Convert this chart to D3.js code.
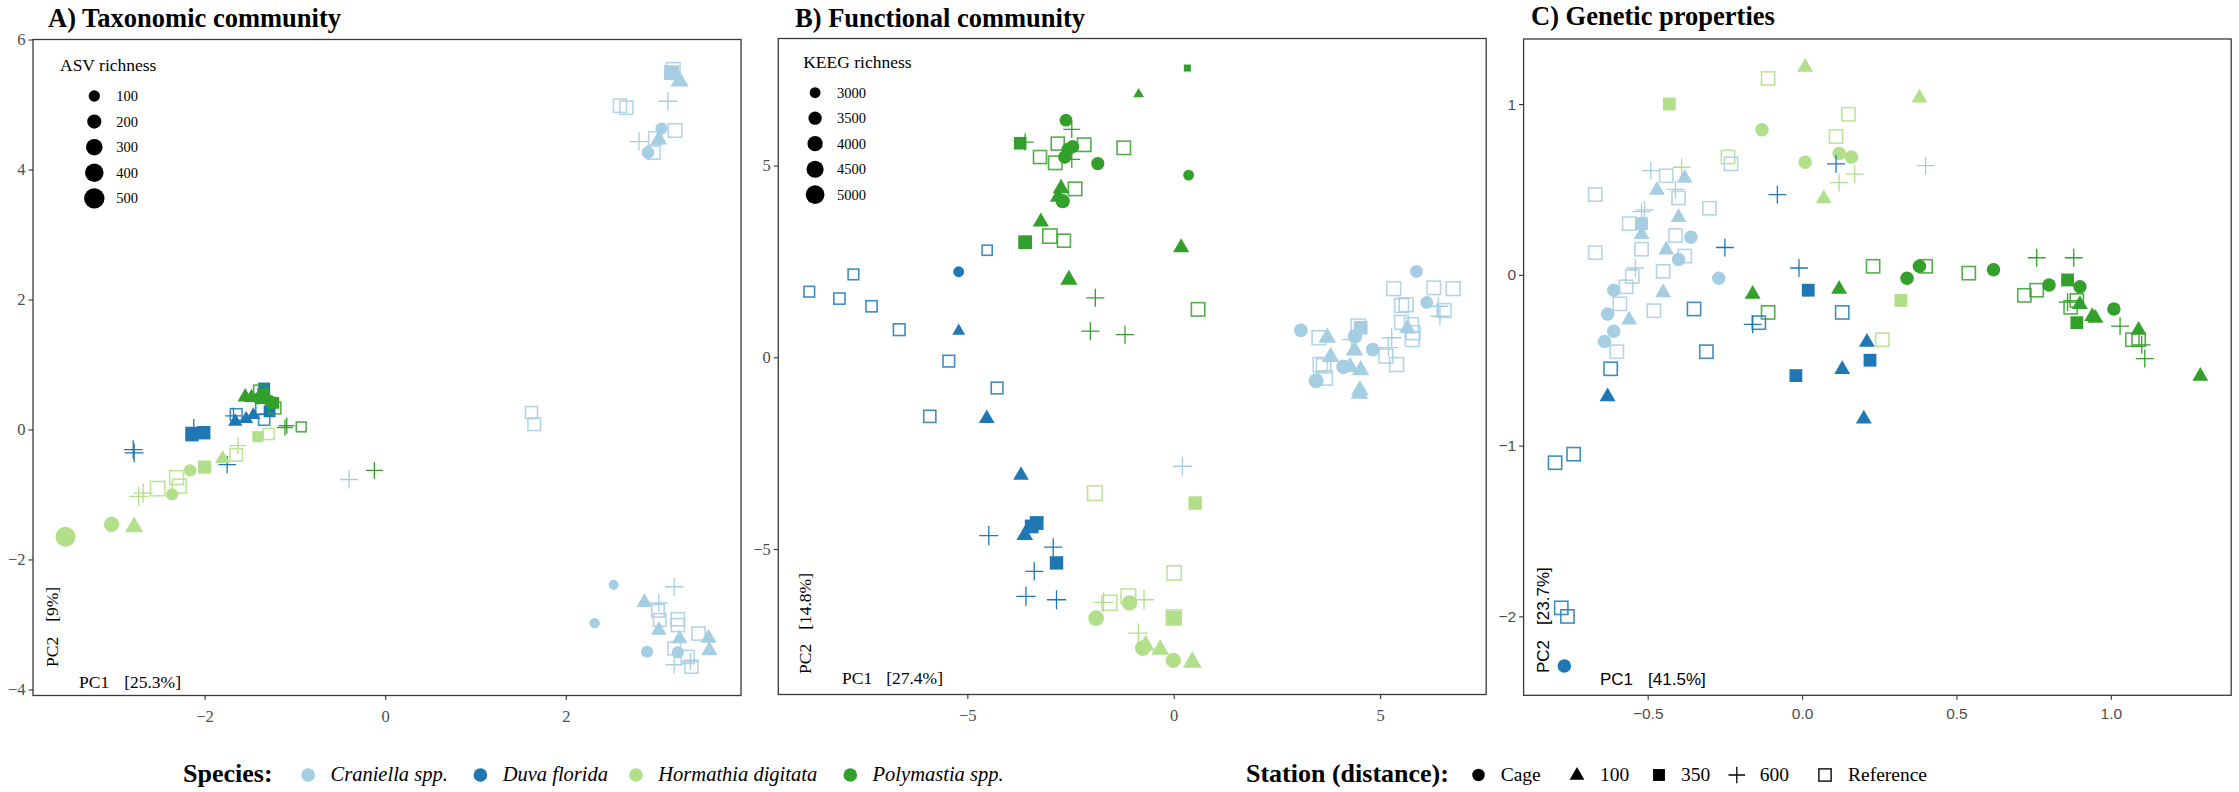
<!DOCTYPE html>
<html><head><meta charset="utf-8">
<script src="https://cdn.jsdelivr.net/npm/d3@7"></script>
<style>body{margin:0;background:#fff}svg{display:block}text{white-space:pre}</style>
</head><body><svg id="chart" width="2239" height="792"></svg>
<script>
// ---------------- DATA ----------------
const speciesCodes = ["Cra","Duv","Hor","Pol"];
const speciesNames = ["Craniella spp.","Duva florida","Hormathia digitata","Polymastia spp."];
const speciesColors = ["#a6cee3","#1f78b4","#b2df8a","#33a02c"];
const stationCodes = ["Cage","100","350","600","Ref"];
const stationLabels = ["Cage","100","350","600","Reference"];

const asvLegendValues = [100,200,300,400,500];
const keegLegendValues = [3000,3500,4000,4500,5000];

const taxTicksX = [-2,0,2];
const taxTicksY = [-4,-2,0,2,4,6];
const funTicksX = [-5,0,5];
const funTicksY = [-5,0,5];
const genTicksX = [-0.5,0,0.5,1.0];
const genTicksY = [-2,-1,0,1];

const panelTitles = ["A) Taxonomic community","B) Functional community","C) Genetic properties"];
const pc1Labels = [["PC1","[25.3%]"],["PC1","[27.4%]"],["PC1","[41.5%]"]];
const pc2Labels = [["PC2","[9%]"],["PC2","[14.8%]"],["PC2","[23.7%]"]];

// [species, station, PC1, PC2, ASV richness]
const taxPoints = [
 ["Cra","Ref",3.19,5.54,190],["Cra","350",3.17,5.49,260],["Cra","100",3.26,5.37,250],
 ["Cra","Ref",2.60,4.98,170],["Cra","Ref",2.67,4.95,170],["Cra","600",3.13,5.05,200],
 ["Cra","Cage",3.06,4.63,130],["Cra","Ref",3.21,4.60,190],["Cra","600",2.81,4.43,200],
 ["Cra","Ref",2.99,4.48,170],["Cra","100",3.03,4.47,200],["Cra","Cage",2.91,4.26,150],
 ["Cra","Ref",2.97,4.26,170],
 ["Cra","Ref",1.62,0.26,130],["Cra","Ref",1.65,0.08,150],["Cra","600",-0.40,-0.77,180],
 ["Pol","600",-0.12,-0.63,150],
 ["Cra","Cage",2.53,-2.39,60],["Cra","Cage",2.32,-2.98,70],["Cra","100",2.87,-2.65,170],
 ["Cra","600",3.20,-2.42,190],["Cra","600",3.03,-2.67,170],["Cra","Ref",3.02,-2.79,150],
 ["Cra","Ref",3.04,-2.93,150],["Cra","100",3.03,-3.08,170],["Cra","Ref",3.24,-2.92,170],
 ["Cra","Ref",3.24,-3.01,170],["Cra","100",3.26,-3.21,170],["Cra","Ref",3.47,-3.14,170],
 ["Cra","100",3.58,-3.20,190],["Cra","100",3.59,-3.39,190],["Cra","Cage",2.90,-3.42,130],
 ["Cra","Cage",3.24,-3.43,130],["Cra","Ref",3.20,-3.37,150],["Cra","Ref",3.35,-3.50,170],
 ["Cra","Ref",3.39,-3.65,170],["Cra","600",3.20,-3.62,170],["Cra","600",3.38,-3.57,150],
 ["Duv","350",-2.14,-0.08,200],["Duv","350",-2.01,-0.05,200],["Duv","600",-2.12,0.03,150],
 ["Duv","600",-2.79,-0.31,200],["Duv","600",-2.78,-0.36,200],["Duv","600",-1.75,-0.54,170],
 ["Duv","100",-1.66,0.13,130],["Duv","100",-1.54,0.17,120],["Duv","100",-1.46,0.23,110],
 ["Duv","Ref",-1.65,0.23,120],["Duv","Ref",-1.34,0.15,100],["Duv","Ref",-1.37,0.32,110],
 ["Duv","600",-1.68,0.21,130],["Duv","350",-1.34,0.63,140],["Duv","350",-1.28,0.28,140],
 ["Hor","Cage",-2.16,-0.63,140],["Hor","350",-2.00,-0.58,190],["Hor","100",-1.80,-0.44,150],
 ["Hor","Ref",-2.31,-0.74,200],["Hor","Ref",-2.28,-0.87,200],["Hor","Ref",-2.52,-0.91,220],
 ["Hor","600",-2.68,-0.98,220],["Hor","600",-2.73,-1.03,220],["Hor","Cage",-2.36,-1.00,130],
 ["Hor","Cage",-3.03,-1.46,250],["Hor","100",-2.78,-1.49,250],["Hor","Cage",-3.54,-1.65,480],
 ["Hor","Ref",-1.65,-0.39,150],["Hor","600",-1.63,-0.25,150],["Hor","350",-1.41,-0.11,110],
 ["Hor","Ref",-1.29,-0.07,100],
 ["Pol","600",-1.11,0.03,130],["Pol","600",-1.09,0.06,130],["Pol","Ref",-0.93,0.04,60],
 ["Pol","100",-1.55,0.51,160],["Pol","100",-1.48,0.50,160],["Pol","350",-1.35,0.54,150],
 ["Pol","Cage",-1.28,0.44,130],["Pol","350",-1.24,0.41,140],["Pol","Ref",-1.39,0.59,130],
 ["Pol","Ref",-1.22,0.33,120],["Pol","Cage",-1.40,0.48,140],["Pol","100",-1.30,0.47,150]
];

// [species, station, PC1, PC2, KEEG richness]
const funPoints = [
 ["Pol","350",0.33,7.54,2450],["Pol","100",-0.85,6.87,2700],["Pol","Cage",-2.61,6.18,3400],
 ["Pol","600",-2.47,5.94,3400],["Pol","350",-3.72,5.58,3500],["Pol","600",-3.60,5.61,3400],
 ["Pol","Ref",-2.81,5.57,3500],["Pol","Ref",-2.17,5.54,3600],["Pol","Ref",-3.24,5.22,3500],
 ["Pol","Ref",-2.87,5.07,3600],["Pol","Ref",-1.21,5.46,3600],["Pol","Cage",-2.45,5.49,3500],
 ["Pol","Cage",-2.56,5.42,3500],["Pol","Cage",-2.64,5.22,3500],["Pol","Cage",-1.84,5.05,3500],
 ["Pol","600",-2.47,5.16,3400],["Pol","Cage",0.36,4.75,3000],["Pol","100",-2.73,4.42,3700],
 ["Pol","100",-2.80,4.20,3700],["Pol","Cage",-2.69,4.07,3700],["Pol","Ref",-2.39,4.39,3600],
 ["Pol","100",-3.22,3.55,3600],["Pol","350",-3.60,3.00,3800],["Pol","Ref",-3.00,3.16,3800],
 ["Pol","Ref",-2.66,3.04,3500],["Pol","100",0.18,2.88,3600],["Pol","100",-2.54,2.04,3800],
 ["Pol","600",-1.90,1.55,3600],["Pol","Ref",0.59,1.25,3600],["Pol","600",-2.02,0.68,3600],
 ["Pol","600",-1.18,0.59,3600],
 ["Duv","Ref",-4.52,2.79,2900],["Duv","Ref",-7.76,2.16,3000],["Duv","Ref",-8.83,1.71,3000],
 ["Duv","Ref",-8.10,1.53,3100],["Duv","Ref",-7.32,1.33,3100],["Duv","Ref",-6.65,0.72,3200],
 ["Duv","Ref",-5.45,-0.10,3200],["Duv","Ref",-4.28,-0.80,3200],["Duv","Cage",-5.21,2.23,3000],
 ["Duv","100",-5.21,0.70,3000],["Duv","Ref",-5.91,-1.54,3300],["Duv","100",-4.53,-1.58,3500],
 ["Duv","100",-3.70,-3.06,3500],["Duv","350",-3.32,-4.32,3800],["Duv","350",-3.44,-4.41,3800],
 ["Duv","100",-3.61,-4.62,3700],["Duv","600",-4.48,-4.65,3800],["Duv","600",-2.92,-4.95,3600],
 ["Duv","350",-2.84,-5.36,3700],["Duv","600",-3.38,-5.58,3600],["Duv","600",-3.58,-6.23,3800],
 ["Duv","600",-2.84,-6.32,3800],
 ["Cra","600",0.21,-2.84,3800],["Cra","100",4.50,-0.93,3900],["Cra","Cage",5.88,2.24,3400],
 ["Cra","Ref",5.33,1.79,3700],["Cra","Ref",6.30,1.81,3600],["Cra","Ref",6.77,1.79,3700],
 ["Cra","Cage",6.13,1.43,3400],["Cra","Ref",5.52,1.35,3700],["Cra","Ref",5.63,1.37,3700],
 ["Cra","600",6.41,1.33,3700],["Cra","600",6.45,1.07,3700],["Cra","Ref",6.55,1.22,3700],
 ["Cra","Ref",5.52,0.91,3700],["Cra","Ref",5.76,0.85,3700],["Cra","Ref",5.80,0.64,3700],
 ["Cra","Ref",5.78,0.46,3700],["Cra","100",5.66,0.77,3700],["Cra","Cage",3.08,0.70,3600],
 ["Cra","Ref",3.52,0.51,3700],["Cra","100",3.72,0.53,3900],["Cra","350",4.53,0.77,3800],
 ["Cra","Ref",4.47,0.81,3800],["Cra","Cage",4.39,0.55,3800],["Cra","100",4.38,0.20,3900],
 ["Cra","600",4.31,0.46,3800],["Cra","Cage",4.82,0.20,3600],["Cra","600",5.20,0.25,3800],
 ["Cra","600",5.28,0.51,3800],["Cra","Ref",5.14,0.03,3700],["Cra","Ref",5.40,-0.19,3700],
 ["Cra","100",3.80,0.03,3900],["Cra","Ref",3.55,-0.19,3800],["Cra","Ref",3.63,-0.22,3800],
 ["Cra","Cage",4.11,-0.25,3800],["Cra","100",4.27,-0.23,3900],["Cra","100",4.53,-0.32,3900],
 ["Cra","Cage",3.45,-0.61,3900],["Cra","Ref",3.67,-0.54,3800],["Cra","100",4.51,-0.84,3900],
 ["Hor","Ref",-1.91,-3.54,3900],["Hor","350",0.52,-3.80,3700],["Hor","Ref",0.01,-5.62,3800],
 ["Hor","600",-1.70,-6.39,3900],["Hor","600",-0.72,-6.32,3900],["Hor","600",-0.86,-7.19,3900],
 ["Hor","Ref",-1.56,-6.40,4000],["Hor","Ref",-1.10,-6.23,3900],["Hor","Cage",-1.07,-6.40,4000],
 ["Hor","Cage",-1.88,-6.80,4100],["Hor","350",0.01,-6.80,4000],["Hor","Ref",0.00,-6.78,4000],
 ["Hor","Cage",-0.75,-7.58,4100],["Hor","Cage",-0.01,-7.90,4000],["Hor","100",-0.68,-7.49,4000],
 ["Hor","100",-0.33,-7.60,4000],["Hor","100",0.45,-7.93,4200]
];

// [species, station, PC1, PC2]
const genPoints = [
 ["Cra","600",-0.49,0.61],["Hor","600",-0.39,0.63],["Cra","Ref",-0.44,0.58],["Cra","100",-0.38,0.57],
 ["Hor","Ref",-0.24,0.69],["Cra","Ref",-0.23,0.65],["Hor","Cage",0.01,0.66],["Cra","100",-0.47,0.50],
 ["Cra","Ref",-0.67,0.47],["Cra","600",-0.41,0.50],["Cra","Ref",-0.40,0.45],["Duv","600",-0.08,0.47],
 ["Cra","600",-0.51,0.38],["Cra","600",-0.52,0.37],["Cra","Ref",-0.30,0.39],["Cra","100",-0.40,0.34],
 ["Cra","Ref",-0.56,0.30],["Cra","350",-0.52,0.30],["Cra","100",-0.52,0.24],["Cra","Ref",-0.41,0.23],
 ["Cra","Cage",-0.36,0.22],["Cra","Ref",-0.67,0.13],["Cra","Ref",-0.52,0.15],["Cra","100",-0.44,0.15],
 ["Cra","Ref",-0.38,0.11],["Cra","Cage",-0.40,0.09],["Cra","600",-0.54,0.04],["Cra","Ref",-0.45,0.02],
 ["Cra","Ref",-0.55,-0.01],["Duv","600",-0.25,0.16],["Cra","Cage",-0.27,-0.02],["Cra","Ref",-0.57,-0.07],
 ["Cra","Cage",-0.61,-0.09],["Cra","100",-0.45,-0.10],["Duv","600",-0.01,0.04],["Duv","350",0.02,-0.09],
 ["Pol","100",-0.16,-0.11],["Cra","Ref",-0.59,-0.17],["Cra","Cage",-0.63,-0.23],["Cra","100",-0.56,-0.26],
 ["Cra","Ref",-0.48,-0.21],["Duv","Ref",-0.35,-0.20],["Pol","Ref",-0.11,-0.22],["Duv","Ref",-0.14,-0.28],
 ["Duv","600",-0.16,-0.29],["Cra","Cage",-0.61,-0.33],["Cra","Cage",-0.64,-0.39],["Cra","Ref",-0.60,-0.45],
 ["Duv","Ref",-0.31,-0.45],["Duv","Ref",-0.62,-0.55],["Duv","350",-0.02,-0.59],["Duv","100",-0.63,-0.71],
 ["Hor","100",0.01,1.22],["Hor","Ref",-0.11,1.15],["Hor","350",-0.43,1.00],["Hor","100",0.38,1.04],
 ["Hor","Ref",0.15,0.94],["Hor","Cage",-0.13,0.85],["Hor","Ref",0.11,0.81],["Hor","Cage",0.12,0.71],
 ["Hor","Cage",0.16,0.69],["Duv","600",0.11,0.65],["Hor","600",0.12,0.54],["Hor","600",0.17,0.59],
 ["Hor","100",0.07,0.45],["Cra","600",0.40,0.64],
 ["Pol","Ref",0.23,0.05],["Pol","Cage",0.34,-0.02],["Pol","Cage",0.38,0.05],["Pol","Ref",0.40,0.05],
 ["Pol","Ref",0.54,0.01],["Pol","Cage",0.62,0.03],["Pol","600",0.76,0.10],["Pol","600",0.88,0.10],
 ["Pol","Ref",0.72,-0.12],["Pol","Ref",0.76,-0.09],["Pol","Cage",0.80,-0.06],["Pol","350",0.86,-0.03],
 ["Pol","Cage",0.90,-0.07],["Pol","Ref",0.87,-0.19],["Pol","Ref",0.89,-0.15],["Pol","600",0.86,-0.16],
 ["Pol","100",0.90,-0.17],["Pol","100",0.94,-0.24],["Pol","100",0.95,-0.25],["Pol","350",0.89,-0.28],
 ["Pol","Cage",1.01,-0.20],["Pol","600",1.03,-0.30],["Pol","100",1.09,-0.32],["Pol","Ref",1.09,-0.38],
 ["Pol","Ref",1.07,-0.38],["Pol","600",1.10,-0.41],["Pol","600",1.11,-0.49],["Pol","100",1.29,-0.59],
 ["Hor","350",0.32,-0.15],["Hor","Ref",0.26,-0.38],["Duv","Ref",0.13,-0.22],["Duv","100",0.21,-0.39],
 ["Duv","100",0.13,-0.55],["Duv","350",0.22,-0.50],["Pol","100",0.12,-0.08],["Duv","100",0.20,-0.84],
 ["Duv","Ref",-0.80,-1.10],["Duv","Ref",-0.74,-1.05],["Duv","Ref",-0.78,-1.95],["Duv","Ref",-0.76,-2.00],
 ["Duv","Cage",-0.77,-2.29]
];

// ---------------- DRAWING ----------------
const svg = d3.select("#chart");
svg.append("rect").attr("width",2239).attr("height",792).attr("fill","#fff");
const SERIF = "'Liberation Serif','Times New Roman',serif";
const SANS = "'Liberation Sans',Arial,sans-serif";
const colorScale = d3.scaleOrdinal().domain(speciesCodes).range(speciesColors);

function drawShape(g, shape, cx, cy, d, color) {
  if (shape === "Cage") {
    g.append("circle").attr("cx",cx).attr("cy",cy).attr("r",d/2).attr("fill",color);
  } else if (shape === "100") {
    const s = d*1.18, h = s*0.866;
    g.append("path").attr("d",`M${cx},${cy-h*0.62}L${cx+s/2},${cy+h*0.38}L${cx-s/2},${cy+h*0.38}Z`).attr("fill",color);
  } else if (shape === "350") {
    const s = d*0.95;
    g.append("rect").attr("x",cx-s/2).attr("y",cy-s/2).attr("width",s).attr("height",s).attr("fill",color);
  } else if (shape === "600") {
    const s = d*0.66;
    g.append("path").attr("d",`M${cx-s},${cy}H${cx+s}M${cx},${cy-s}V${cy+s}`)
      .attr("stroke",color).attr("stroke-width",1.3).attr("fill","none");
  } else {
    const s = d*0.98;
    g.append("rect").attr("x",cx-s/2).attr("y",cy-s/2).attr("width",s).attr("height",s)
      .attr("fill","none").attr("stroke",color).attr("stroke-width",1.6).attr("stroke-opacity",0.85);
  }
}

function drawPanel(cfg) {
  const x = d3.scaleLinear().domain(cfg.xDomain).range([cfg.left, cfg.right]);
  const y = d3.scaleLinear().domain(cfg.yDomain).range([cfg.bottom, cfg.top]);
  const g = svg.append("g");
  g.append("text").attr("x",cfg.titleX).attr("y",cfg.titleY).text(cfg.title)
    .attr("font-family",SERIF).attr("font-weight","bold").attr("font-size",26.5).attr("fill","#000");
  const pg = g.append("g");
  cfg.points.forEach(p => {
    const d = cfg.sizeOf(p);
    drawShape(pg, p[1], x(p[2]), y(p[3]), d, colorScale(p[0]));
  });
  g.append("rect").attr("x",cfg.left).attr("y",cfg.top).attr("width",cfg.right-cfg.left)
    .attr("height",cfg.bottom-cfg.top).attr("fill","none").attr("stroke","#3a3a3a").attr("stroke-width",1.3);
  const xa = g.append("g").attr("transform",`translate(0,${cfg.bottom})`)
    .call(d3.axisBottom(x).tickValues(cfg.xTicks).tickSize(4.5).tickPadding(cfg.xPad).tickFormat(cfg.xFmt));
  const ya = g.append("g").attr("transform",`translate(${cfg.left},0)`)
    .call(d3.axisLeft(y).tickValues(cfg.yTicks).tickSize(4.5).tickPadding(3).tickFormat(cfg.yFmt));
  [xa, ya].forEach(a => {
    a.select(".domain").remove();
    a.selectAll(".tick line").attr("stroke","#333").attr("stroke-width",1.1);
    a.selectAll(".tick text").attr("font-family",cfg.tickFont).attr("font-size",cfg.tickSize).attr("fill","#4d4d4d");
  });
  const pc1 = g.append("text").attr("x",cfg.pc1X).attr("y",cfg.pc1Y)
    .attr("font-family",cfg.pcFont).attr("font-size",cfg.pcSize).attr("fill","#000");
  pc1.append("tspan").text(cfg.pc1[0]);
  pc1.append("tspan").attr("dx",cfg.pcGap).text(cfg.pc1[1]);
  const pc2 = g.append("text").attr("transform",`translate(${cfg.pc2X},${cfg.pc2Y}) rotate(-90)`)
    .attr("font-family",cfg.pcFont).attr("font-size",cfg.pcSize).attr("fill","#000");
  pc2.append("tspan").text(cfg.pc2[0]);
  pc2.append("tspan").attr("dx",cfg.pcGap).text(cfg.pc2[1]);
  if (cfg.legend) {
    const L = cfg.legend;
    g.append("text").attr("x",L.x).attr("y",L.y).text(L.title)
      .attr("font-family",SERIF).attr("font-size",17.5).attr("fill","#000");
    L.values.forEach((v,i) => {
      const cy = L.y0 + i*L.step;
      g.append("circle").attr("cx",L.cx).attr("cy",cy).attr("r",L.size(v)/2).attr("fill","#000");
      g.append("text").attr("x",L.tx).attr("y",cy).attr("dy","0.34em").text(v)
        .attr("font-family",SERIF).attr("font-size",14.5).attr("fill","#000");
    });
  }
}

const minusFmt = v => (v < 0 ? "\u2212" : "") + Math.abs(v);
const minusFmt1 = v => (v < 0 ? "\u2212" : "") + d3.format(".1f")(Math.abs(v));
const asvSize = v => Math.sqrt(Math.max(20, d3.scaleLinear().domain([100,500]).range([128,415])(v)));
const keegSize = v => Math.sqrt(Math.max(20, d3.scaleLinear().domain([3000,5000]).range([118,350])(v)));

drawPanel({
  title: panelTitles[0], titleX: 48, titleY: 27,
  left: 33, right: 741, top: 39.5, bottom: 695.5,
  xDomain: [-3.90, 3.94], yDomain: [-4.093, 6.0],
  xTicks: taxTicksX, yTicks: taxTicksY, xFmt: minusFmt, yFmt: minusFmt, xPad: 10,
  tickFont: SERIF, tickSize: 16.5,
  points: taxPoints, sizeOf: p => asvSize(p[4]),
  pcFont: SERIF, pcSize: 17.5, pcGap: 15,
  pc1: pc1Labels[0], pc1X: 79, pc1Y: 688,
  pc2: pc2Labels[0], pc2X: 58, pc2Y: 667,
  legend: {title: "ASV richness", x: 60, y: 70.5, values: asvLegendValues, y0: 96, step: 25.6,
           cx: 94.3, tx: 116.3, size: asvSize}
});

drawPanel({
  title: panelTitles[1], titleX: 795, titleY: 27,
  left: 778.3, right: 1486.2, top: 38.5, bottom: 694.5,
  xDomain: [-9.58, 7.57], yDomain: [-8.79, 8.31],
  xTicks: funTicksX, yTicks: funTicksY, xFmt: minusFmt, yFmt: minusFmt, xPad: 10,
  tickFont: SERIF, tickSize: 16.5,
  points: funPoints, sizeOf: p => keegSize(p[4]),
  pcFont: SERIF, pcSize: 17.5, pcGap: 14,
  pc1: pc1Labels[1], pc1X: 842, pc1Y: 684,
  pc2: pc2Labels[1], pc2X: 810.8, pc2Y: 674,
  legend: {title: "KEEG richness", x: 803.2, y: 68.3, values: keegLegendValues, y0: 92.7, step: 25.5,
           cx: 815.1, tx: 837, size: keegSize}
});

drawPanel({
  title: panelTitles[2], titleX: 1531, titleY: 25,
  left: 1523.6, right: 2231.2, top: 39, bottom: 695.3,
  xDomain: [-0.902, 1.39], yDomain: [-2.462, 1.381],
  xTicks: genTicksX, yTicks: genTicksY, xFmt: minusFmt1, yFmt: minusFmt, xPad: 8,
  tickFont: SANS, tickSize: 15.5,
  points: genPoints, sizeOf: p => 13.5,
  pcFont: SANS, pcSize: 17, pcGap: 15,
  pc1: pc1Labels[2], pc1X: 1600, pc1Y: 685,
  pc2: pc2Labels[2], pc2X: 1549, pc2Y: 673,
  legend: null
});

// ---------------- BOTTOM LEGENDS ----------------
const lg = svg.append("g");
const legY = 775, legBase = 781;
lg.append("text").attr("x",183).attr("y",782).text("Species:")
  .attr("font-family",SERIF).attr("font-weight","bold").attr("font-size",26).attr("fill","#000");
const spSymX = [308.2, 480.4, 636, 850.3];
const spTextX = [330.5, 502.7, 658.3, 872.6];
speciesNames.forEach((n,i) => {
  lg.append("circle").attr("cx",spSymX[i]).attr("cy",legY).attr("r",6.8).attr("fill",speciesColors[i]);
  lg.append("text").attr("x",spTextX[i]).attr("y",legBase).text(n)
    .attr("font-family",SERIF).attr("font-style","italic").attr("font-size",20.5).attr("fill","#000");
});
lg.append("text").attr("x",1246).attr("y",782).text("Station (distance):")
  .attr("font-family",SERIF).attr("font-weight","bold").attr("font-size",26).attr("fill","#000");
const stSymX = [1478.5, 1577, 1659, 1736.8, 1825];
const stTextX = [1500.7, 1600, 1681, 1759.7, 1848];
stationCodes.forEach((c,i) => {
  const sg = lg.append("g");
  drawShape(sg, c, stSymX[i], legY, 12.5, "#000");
  lg.append("text").attr("x",stTextX[i]).attr("y",legBase).text(stationLabels[i])
    .attr("font-family",SERIF).attr("font-size",19.5).attr("fill","#000");
});
</script></body></html>
